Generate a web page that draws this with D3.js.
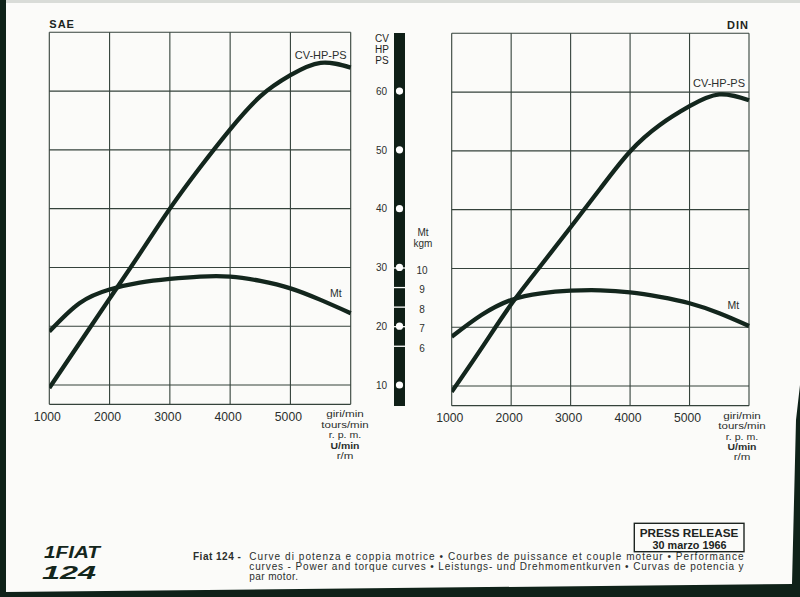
<!DOCTYPE html>
<html><head><meta charset="utf-8">
<script src="https://cdn.jsdelivr.net/npm/d3@7/dist/d3.min.js"></script>
<style>
html,body{margin:0;padding:0;background:#0f2219;}
svg{display:block;font-family:"Liberation Sans",Arial,Helvetica,sans-serif;}
</style></head>
<body>
<svg id="c" width="800" height="597"></svg>
<script>
// ---- data ----
const rpm = [1000,1500,2000,2500,3000,3500,4000,4500,5000,5500,6000];
const saePower  = [9.5, 17.1, 24.7, 32.3, 40.0, 47.0, 53.5, 59.1, 62.7, 64.8, 64.0];
const saeTorque = [6.75, 8.2, 8.9, 9.25, 9.44, 9.56, 9.56, 9.34, 8.96, 8.37, 7.69];
const dinPower  = [9.0, 16.4, 23.9, 30.5, 37.0, 43.6, 49.9, 54.4, 57.6, 59.6, 58.6];
const dinTorque = [6.54, 7.65, 8.42, 8.76, 8.89, 8.91, 8.81, 8.58, 8.25, 7.74, 7.09];
const rpmTicks = [1000,2000,3000,4000,5000,6000];
const rpmLabels = ["1000","2000","3000","4000","5000"];
const powerTicks = [10,20,30,40,50,60,70];
const powerLabels = [10,20,30,40,50,60];
const torqueTicks = [6,7,8,9,10];
const powerDots = [10,20,30,40,50,60];
const unitLines = ["giri/min","tours/min","r. p. m.","U/min","r/m"];
const unitWidths = [37.7,47.3,32.3,29,16.7];
const captionLines = [
  "Curve di potenza e coppia motrice  \u2022  Courbes de puissance et couple moteur  \u2022  Performance",
  "curves - Power and torque curves  \u2022  Leistungs- und Drehmomentkurven  \u2022  Curvas de potencia y",
  "par motor."
];
const logoLines = ["1FIAT","124"];

const svg = d3.select("#c");
const ink = "#13261d", grid = "#34423b", txt = "#2b2f2d";

// paper
svg.append("rect").attr("width",800).attr("height",597).attr("fill","#0f2219");
svg.append("rect").attr("x",6).attr("y",0).attr("width",794).attr("height",3).attr("fill","#d9dcd8");
svg.append("path").attr("d","M6,3 L800,3 L800,385 L796,420 L792,584 L6,592 Z").attr("fill","#fbfbf9");

function panel(cfg){
  const x = d3.scaleLinear().domain([1000,6000]).range(cfg.xr);
  const yP = d3.scaleLinear().domain([10,70]).range(cfg.pr);
  const yT = d3.scaleLinear().domain([7,10]).range(cfg.tr);
  const g = svg.append("g");
  const x0 = x(1000), x1 = x(6000), top = yP(70), bot = cfg.bottom;
  g.selectAll("line.v").data(rpmTicks).join("line")
    .attr("x1",d=>x(d)).attr("x2",d=>x(d)).attr("y1",top).attr("y2",bot)
    .attr("stroke",grid).attr("stroke-width",1.1);
  g.selectAll("line.h").data(powerTicks).join("line")
    .attr("x1",x0).attr("x2",x1).attr("y1",d=>yP(d)).attr("y2",d=>yP(d))
    .attr("stroke",grid).attr("stroke-width",1.1);
  g.append("line").attr("x1",x0).attr("x2",x1).attr("y1",bot).attr("y2",bot)
    .attr("stroke",grid).attr("stroke-width",1.2);
  const id = "clip"+cfg.name;
  svg.append("clipPath").attr("id",id).append("rect")
    .attr("x",x0).attr("y",top).attr("width",x1-x0+2).attr("height",bot-top);
  const lp = d3.line().x((d,i)=>x(rpm[i])).y(d=>yP(d)).curve(d3.curveNatural);
  const lt = d3.line().x((d,i)=>x(rpm[i])).y(d=>yT(d)).curve(d3.curveNatural);
  g.append("path").attr("d",lp(cfg.power)).attr("fill","none").attr("stroke",ink)
    .attr("stroke-width",4.3).attr("clip-path",`url(#${id})`);
  g.append("path").attr("d",lt(cfg.torque)).attr("fill","none").attr("stroke",ink)
    .attr("stroke-width",4.3).attr("clip-path",`url(#${id})`);
  g.selectAll("text.xl").data(rpmLabels).join("text")
    .attr("x",(d,i)=>x(rpmTicks[i])-2).attr("y",bot+16.5)
    .attr("text-anchor","middle").attr("font-size",12.2).attr("fill",txt).text(d=>d);
  g.selectAll("text.u").data(unitLines).join("text")
    .attr("x",cfg.unitX).attr("y",(d,i)=>bot+13+i*10.4)
    .attr("text-anchor","middle").attr("font-size",9.3).attr("fill",txt)
    .attr("textLength",(d,i)=>unitWidths[i]).attr("lengthAdjust","spacingAndGlyphs")
    .attr("font-weight",(d,i)=>i===3?"bold":"normal").text(d=>d);
  g.append("text").attr("x",x1-4).attr("y",cfg.cvY).attr("text-anchor","end")
    .attr("font-size",11).attr("fill",txt).text("CV-HP-PS");
  g.append("text").attr("x",cfg.mtX).attr("y",cfg.mtY)
    .attr("font-size",10.5).attr("fill",txt).text("Mt");
  g.append("text").attr("x",cfg.titleAnchor==="end"?x1:x0).attr("y",top-4)
    .attr("text-anchor",cfg.titleAnchor).attr("font-size",11).attr("font-weight","bold")
    .attr("letter-spacing",1).attr("fill","#1d2421").text(cfg.name);
  return {x,yP,yT};
}

const L = panel({name:"SAE", xr:[49.3,350.7], pr:[385,32.3], tr:[326.7,268], bottom:404.3,
  power:saePower, torque:saeTorque, unitX:345, cvY:59, mtX:330, mtY:296.5, titleAnchor:"start"});
const R = panel({name:"DIN", xr:[451.7,749], pr:[386,33.3], tr:[327.7,269], bottom:405.7,
  power:dinPower, torque:dinTorque, unitX:742, cvY:86.5, mtX:727.5, mtY:309, titleAnchor:"end"});

// central scale bar
const bar = svg.append("g");
bar.append("rect").attr("x",394).attr("y",33).attr("width",11).attr("height",373).attr("fill","#0f1f17");
bar.selectAll("line.t").data(torqueTicks).join("line")
  .attr("x1",394).attr("x2",405).attr("y1",d=>L.yT(d)).attr("y2",d=>L.yT(d))
  .attr("stroke","#fff").attr("stroke-width",1.3);
bar.selectAll("circle").data(powerDots).join("circle")
  .attr("cx",399.5).attr("cy",d=>L.yP(d)).attr("r",3.6).attr("fill","#fff");
bar.selectAll("text.p").data(powerLabels).join("text")
  .attr("x",387).attr("y",d=>L.yP(d)+3.8).attr("text-anchor","end")
  .attr("font-size",10).attr("fill",txt).text(d=>d);
bar.selectAll("text.t").data(torqueTicks).join("text")
  .attr("x",422).attr("y",d=>L.yT(d)+5.5).attr("text-anchor","middle")
  .attr("font-size",10).attr("fill",txt).text(d=>d);
bar.selectAll("text.hd").data(["CV","HP","PS"]).join("text")
  .attr("x",382).attr("y",(d,i)=>42+i*11).attr("text-anchor","middle")
  .attr("font-size",10).attr("fill","#1d2421").text(d=>d);
bar.selectAll("text.mk").data(["Mt","kgm"]).join("text")
  .attr("x",423).attr("y",(d,i)=>235.5+i*11).attr("text-anchor","middle")
  .attr("font-size",10).attr("fill",txt).text(d=>d);

// caption
const cap = svg.append("g").attr("fill","#2a2e2c").attr("font-size",10);
cap.append("text").attr("x",193).attr("y",560).attr("font-weight","bold").attr("letter-spacing",0.5).text("Fiat 124 -");
cap.selectAll("text.c").data(captionLines).join("text")
  .attr("x",249.3).attr("y",(d,i)=>560+i*10.2)
  .attr("letter-spacing",0.4)
  .each(function(d,i){ if(i<2) d3.select(this).attr("textLength",494.7).attr("lengthAdjust","spacing"); })
  .text(d=>d);

// press release box
svg.append("rect").attr("x",634.3).attr("y",523.3).attr("width",109.7).attr("height",28.4)
  .attr("fill","none").attr("stroke","#1d2421").attr("stroke-width",1.4);
svg.append("text").attr("x",689).attr("y",536.5).attr("text-anchor","middle").attr("font-size",11.5)
  .attr("font-weight","bold").attr("fill","#1d2421").attr("textLength",98.7).attr("lengthAdjust","spacingAndGlyphs").text("PRESS RELEASE");
svg.append("text").attr("x",689.5).attr("y",549).attr("text-anchor","middle").attr("font-size",10.5)
  .attr("font-weight","bold").attr("fill","#1d2421").attr("textLength",74).attr("lengthAdjust","spacingAndGlyphs").text("30 marzo 1966");

// logo
svg.append("g").attr("fill","#14261c").attr("font-weight","bold").attr("font-style","italic")
  .attr("font-family","'Liberation Sans Narrow','Liberation Sans',Arial,sans-serif")
  .selectAll("text").data(logoLines).join("text")
  .attr("x",(d,i)=>i===0?44:42).attr("y",(d,i)=>i===0?558:579)
  .attr("font-size",(d,i)=>i===0?16:19)
  .attr("textLength",(d,i)=>i===0?56:54).attr("lengthAdjust","spacingAndGlyphs")
  .text(d=>d);
</script>
</body></html>
